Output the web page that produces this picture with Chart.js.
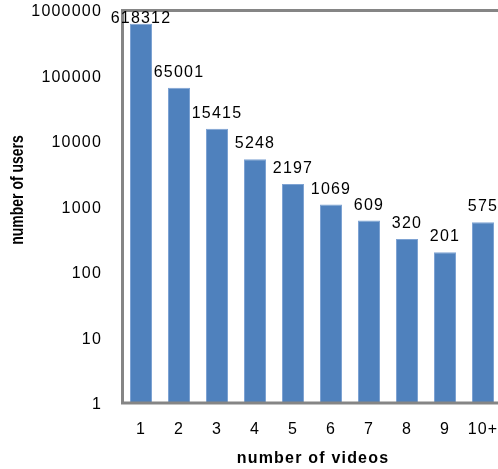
<!DOCTYPE html>
<html>
<head>
<meta charset="utf-8">
<script src="https://cdn.jsdelivr.net/npm/chart.js@4/dist/chart.umd.min.js"></script>
<style>
  html, body { margin: 0; padding: 0; background: #fff; overflow: hidden; }
  #wrap { width: 506px; height: 469px; }
</style>
</head>
<body>
<div id="wrap"><canvas id="c" width="506" height="469"></canvas></div>
<script>
// Users grouped by how many videos they uploaded
const categories = ["1", "2", "3", "4", "5", "6", "7", "8", "9", "10+"];
const userCounts = [618312, 65001, 15415, 5248, 2197, 1069, 609, 320, 201, 575];
const yTickValues = [1, 10, 100, 1000, 10000, 100000, 1000000];

const FONT = "'Liberation Sans', Arial, sans-serif";
const SPACING = '1.2px';

// wider glyph spacing for all canvas text
const spacingPlugin = {
  id: 'spacing',
  beforeLayout(chart) { chart.ctx.letterSpacing = SPACING; },
  beforeDraw(chart) { chart.ctx.letterSpacing = SPACING; }
};

// plot frame on left, top and bottom edges
const framePlugin = {
  id: 'frame',
  afterDatasetsDraw(chart) {
    const { ctx, chartArea: a } = chart;
    ctx.save();
    ctx.strokeStyle = '#858585';
    ctx.lineWidth = 3;
    ctx.beginPath();
    ctx.moveTo(a.right + 5, a.top + 0.5);
    ctx.lineTo(a.left + 0.5, a.top + 0.5);
    ctx.lineTo(a.left + 0.5, a.bottom);
    ctx.lineTo(a.right + 5, a.bottom);
    ctx.stroke();
    ctx.restore();
  }
};

// value labels above each bar, kept inside the plot top
const valueLabels = {
  id: 'valueLabels',
  afterDatasetsDraw(chart) {
    const { ctx, chartArea: a } = chart;
    const meta = chart.getDatasetMeta(0);
    const data = chart.data.datasets[0].data;
    ctx.save();
    ctx.letterSpacing = SPACING;
    ctx.font = '16px ' + FONT;
    ctx.fillStyle = '#000';
    ctx.textAlign = 'center';
    ctx.textBaseline = 'alphabetic';
    meta.data.forEach((bar, i) => {
      const y = Math.max(bar.y - 11, a.top + 13);
      ctx.fillText(String(data[i]), bar.x, y);
    });
    ctx.restore();
  }
};

// axis titles
const axisTitles = {
  id: 'axisTitles',
  afterDraw(chart) {
    const { ctx } = chart;
    ctx.save();
    ctx.fillStyle = '#000';
    ctx.textAlign = 'center';
    ctx.textBaseline = 'alphabetic';
    ctx.letterSpacing = SPACING;
    ctx.font = 'bold 16px ' + FONT;
    ctx.fillText('number of videos', 313, 463);
    ctx.letterSpacing = '0px';
    ctx.font = 'bold 14px ' + FONT;
    ctx.translate(23, 190);
    ctx.rotate(-Math.PI / 2);
    ctx.scale(1, 1.3);
    ctx.fillText('number of users', 0, 0);
    ctx.restore();
  }
};

new Chart(document.getElementById('c'), {
  type: 'bar',
  data: {
    labels: categories,
    datasets: [{
      data: userCounts,
      backgroundColor: '#4F81BD',
      borderColor: '#7EA3D3',
      borderWidth: 1,
      borderSkipped: 'bottom',
      barPercentage: 0.58,
      categoryPercentage: 1.0
    }]
  },
  options: {
    responsive: false,
    animation: false,
    devicePixelRatio: 1,
    layout: { padding: { top: 10, right: 4, left: 0, bottom: 0 } },
    plugins: {
      legend: { display: false },
      tooltip: { enabled: false }
    },
    scales: {
      x: {
        grid: { display: false, drawTicks: false },
        border: { display: false },
        ticks: { color: '#000', font: { family: FONT, size: 16 }, padding: 17, maxRotation: 0, autoSkip: false },
        afterFit(scale) {
          scale.height = 66;
          scale.paddingLeft = 0;
          scale.paddingRight = 0;
        }
      },
      y: {
        type: 'logarithmic',
        min: 1,
        max: 1000000,
        grid: { display: false, drawTicks: false },
        border: { display: false },
        ticks: {
          color: '#000',
          font: { family: FONT, size: 16 },
          padding: 20,
          labelOffset: 2,
          autoSkip: false,
          callback: v => String(v)
        },
        afterBuildTicks(scale) { scale.ticks = yTickValues.map(v => ({ value: v })); },
        afterFit(scale) {
          scale.width = 122;
          scale.paddingTop = 0;
          scale.paddingBottom = 0;
        }
      }
    }
  },
  plugins: [spacingPlugin, framePlugin, valueLabels, axisTitles]
});
</script>
</body>
</html>
